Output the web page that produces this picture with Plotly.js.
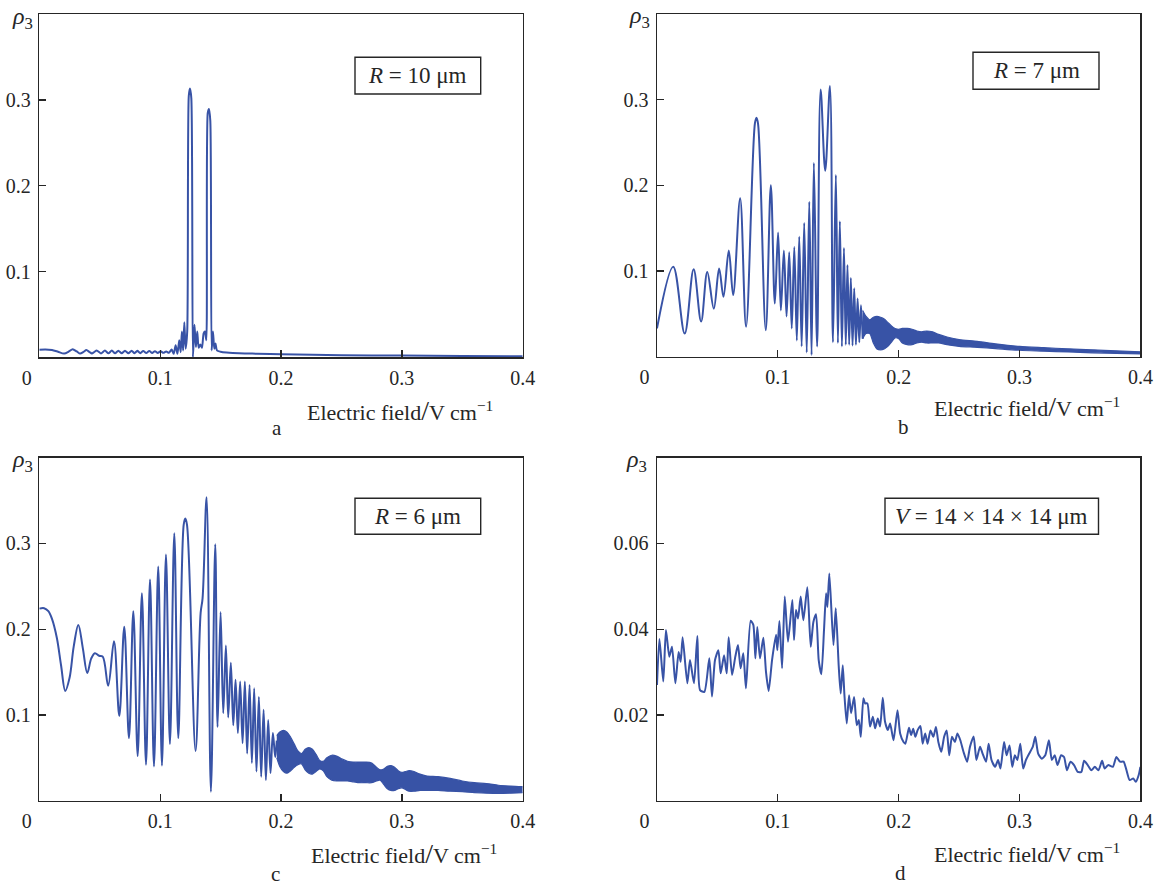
<!DOCTYPE html>
<html><head><meta charset="utf-8">
<script src="https://cdn.plot.ly/plotly-3.0.1.min.js"></script>
<style>html,body{margin:0;padding:0;background:#fff;}#chart{width:1163px;height:886px;}</style>
</head><body><div id="chart"></div>
<script>
// ---------------- DATA ----------------
const xTickVals = [0, 0.1, 0.2, 0.3, 0.4];
const xTickText = ['0\u2003\u00a0', '0.1', '0.2', '0.3', '0.4'];
const yTickValsABC = [0.1, 0.2, 0.3];
const yTickTextABC = ['0.1', '0.2', '0.3'];
const yTickValsD = [0.02, 0.04, 0.06];
const yTickTextD = ['0.02', '0.04', '0.06'];
const panelLetters = ['a', 'b', 'c', 'd'];
const boxLabels = ['<i>R</i> = 10 μm', '<i>R</i> = 7 μm', '<i>R</i> = 6 μm', '<i>V</i> = 14 × 14 × 14 μm'];
const xTitle = 'Electric field<span style="font-size:28px">/</span>V cm<sup>−1</sup>';
const yTitle = '<i>ρ</i><sub>3</sub>';

// panel a : R = 10 um  [field, rho3]
const curveA = [[0,0.0088],[0.005,0.0090],[0.0105,0.0086],[0.0155,0.0065],[0.0205,0.0043],[0.0245,0.0068],[0.0276,0.0095],[0.031,0.0068],[0.0338,0.0043],[0.0365,0.0062],[0.039,0.0085],[0.0415,0.0062],[0.0435,0.0045],[0.0455,0.0062],[0.0475,0.0080],[0.051,0.0045],[0.0543,0.0078],[0.0572,0.0046],[0.060,0.0078],[0.0627,0.0046],[0.0654,0.0076],[0.0682,0.0047],[0.0709,0.0076],[0.0737,0.0047],[0.0764,0.0076],[0.0788,0.0048],[0.0811,0.0075],[0.0836,0.0048],[0.086,0.0074],[0.0885,0.0049],[0.091,0.0074],[0.0934,0.0050],[0.0957,0.0072],[0.098,0.0050],[0.1004,0.0070],[0.1027,0.0052],[0.105,0.0068],[0.1072,0.0052],[0.1095,0.0090],[0.1112,0.0040],[0.1128,0.0140],[0.1143,0.0040],[0.1158,0.0200],[0.1170,0.0060],[0.1180,0.0300],[0.1190,0.0080],[0.1200,0.0410],[0.1211,0.0100],[0.1224,0.0300],[0.1237,0.3050],[0.1247,0.3135],[0.1258,0.3020],[0.1271,0.0000],[0.1284,0.0380],[0.1296,0.0120],[0.1307,0.0300],[0.1319,0.0110],[0.1333,0.0150],[0.1346,0.0110],[0.1360,0.0280],[0.1371,0.0300],[0.1382,0.0200],[0.1394,0.2850],[0.1404,0.2895],[0.1415,0.2760],[0.1426,0.0080],[0.1437,0.0300],[0.1448,0.0100],[0.1458,0.0160],[0.1470,0.0080],[0.1500,0.0065],[0.1550,0.0055],[0.1600,0.0050],[0.1800,0.0042],[0.2000,0.0035],[0.2500,0.0025],[0.3000,0.0020],[0.3500,0.0015],[0.4000,0.0012]];

// panel b : R = 7 um
const curveB = [[0,0.033],[0.0134,0.105],[0.0229,0.027],[0.0303,0.102],[0.0365,0.041],[0.0416,0.099],[0.047,0.056],[0.0514,0.103],[0.055,0.070],[0.0594,0.124],[0.063,0.072],[0.0688,0.185],[0.0737,0.035],[0.0810,0.272],[0.0823,0.279],[0.0836,0.272],[0.0900,0.031],[0.0942,0.200],[0.0975,0.062],[0.1002,0.145],[0.1025,0.054],[0.1050,0.124],[0.1072,0.047],[0.1094,0.122],[0.1115,0.033],[0.1136,0.128],[0.1157,0.019],[0.1177,0.140],[0.1197,0.012],[0.1218,0.156],[0.1239,0.005],[0.1260,0.181],[0.1279,0.002],[0.1298,0.226],[0.1325,0.012],[0.1354,0.312],[0.1392,0.217],[0.1431,0.316],[0.1456,0.017],[0.1480,0.212],[0.1497,0.016],[0.1513,0.158],[0.1530,0.012],[0.1547,0.127],[0.1562,0.014],[0.1576,0.107],[0.1590,0.014],[0.1604,0.092],[0.1618,0.013],[0.1632,0.080],[0.1646,0.014],[0.1660,0.068],[0.1674,0.017],[0.1688,0.060],[0.1702,0.021]];
// dense oscillation band of panel b: [field, upper, lower]
const bandB = [[0.1702,0.054,0.021],[0.173,0.047,0.027],[0.176,0.043,0.027],[0.179,0.046,0.016],[0.182,0.047,0.009],[0.185,0.046,0.008],[0.188,0.044,0.009],[0.191,0.040,0.012],[0.194,0.036,0.017],[0.197,0.033,0.022],[0.200,0.032,0.021],[0.203,0.033,0.016],[0.207,0.033,0.014],[0.211,0.032,0.014],[0.215,0.030,0.016],[0.219,0.029,0.017],[0.223,0.030,0.016],[0.228,0.029,0.016],[0.233,0.026,0.016],[0.240,0.023,0.014],[0.250,0.020,0.012],[0.265,0.018,0.011],[0.280,0.015,0.0095],[0.300,0.012,0.0075],[0.320,0.0105,0.0065],[0.340,0.0092,0.0055],[0.360,0.0080,0.0045],[0.380,0.0068,0.0038],[0.400,0.0058,0.0032]];

// panel c : R = 6 um
const curveC = [[0,0.224],[0.004,0.2245],[0.0075,0.221],[0.0105,0.212],[0.0145,0.190],[0.018,0.158],[0.0215,0.128],[0.025,0.143],[0.0285,0.180],[0.0323,0.205],[0.036,0.178],[0.0397,0.149],[0.043,0.166],[0.046,0.172],[0.0495,0.169],[0.0525,0.168],[0.0570,0.134],[0.0618,0.186],[0.0662,0.099],[0.0703,0.203],[0.0742,0.073],[0.0778,0.221],[0.0814,0.052],[0.0849,0.242],[0.0883,0.042],[0.0916,0.258],[0.0949,0.040],[0.0984,0.273],[0.1015,0.041],[0.1048,0.287],[0.1081,0.066],[0.1117,0.312],[0.1150,0.073],[0.1195,0.322],[0.1208,0.329],[0.1222,0.322],[0.1293,0.058],[0.1335,0.219],[0.1351,0.236],[0.1384,0.354],[0.1420,0.0105],[0.1456,0.299],[0.1475,0.086],[0.1500,0.220],[0.1522,0.102],[0.1544,0.181],[0.1563,0.097],[0.1585,0.161],[0.1605,0.088],[0.1624,0.141],[0.1643,0.079],[0.1662,0.139],[0.1682,0.067],[0.1701,0.139],[0.1720,0.055],[0.1740,0.135],[0.1759,0.044],[0.1778,0.131],[0.1797,0.034],[0.1817,0.121],[0.1836,0.028],[0.1856,0.106],[0.1875,0.024],[0.1894,0.094],[0.1913,0.032],[0.1933,0.079],[0.1952,0.051],[0.1965,0.070]];
const bandC = [[0.1965,0.076,0.050],[0.199,0.080,0.040],[0.202,0.082,0.034],[0.205,0.080,0.032],[0.208,0.074,0.035],[0.211,0.066,0.039],[0.214,0.058,0.042],[0.217,0.055,0.043],[0.220,0.060,0.036],[0.223,0.062,0.032],[0.226,0.060,0.031],[0.229,0.054,0.034],[0.232,0.047,0.037],[0.235,0.046,0.035],[0.238,0.050,0.028],[0.242,0.053,0.024],[0.246,0.052,0.023],[0.250,0.049,0.023],[0.255,0.046,0.023],[0.260,0.045,0.022],[0.265,0.045,0.021],[0.270,0.045,0.021],[0.275,0.044,0.021],[0.279,0.039,0.023],[0.282,0.036,0.024],[0.285,0.037,0.019],[0.288,0.040,0.014],[0.291,0.041,0.012],[0.294,0.039,0.012],[0.297,0.035,0.014],[0.300,0.033,0.015],[0.303,0.034,0.013],[0.306,0.035,0.011],[0.310,0.034,0.011],[0.315,0.031,0.012],[0.320,0.029,0.012],[0.330,0.028,0.012],[0.340,0.026,0.011],[0.350,0.023,0.0105],[0.360,0.021,0.0095],[0.370,0.020,0.0088],[0.380,0.018,0.0085],[0.390,0.017,0.0088],[0.400,0.0163,0.0093]];

// panel d : V = 14x14x14 um
const curveD = [[0.000,0.027],[0.002,0.0377],[0.0052,0.0278],[0.0074,0.0398],[0.0102,0.0336],[0.0124,0.0359],[0.0152,0.0274],[0.0179,0.0347],[0.0196,0.0324],[0.0212,0.0381],[0.0251,0.0274],[0.0273,0.0328],[0.0306,0.0274],[0.0334,0.0384],[0.0356,0.0258],[0.0392,0.0254],[0.0433,0.0332],[0.0455,0.0243],[0.048,0.0328],[0.0508,0.0351],[0.0527,0.0297],[0.0555,0.0339],[0.0577,0.0297],[0.0593,0.0381],[0.0621,0.0293],[0.0648,0.0336],[0.067,0.0363],[0.0692,0.0309],[0.0714,0.0344],[0.0736,0.0262],[0.0775,0.042],[0.0797,0.041],[0.0814,0.0332],[0.083,0.0405],[0.0852,0.0332],[0.088,0.038],[0.0902,0.030],[0.0924,0.0256],[0.0952,0.0328],[0.0985,0.0387],[0.0996,0.0351],[0.1013,0.0419],[0.1035,0.0309],[0.1057,0.0476],[0.1084,0.0371],[0.112,0.0468],[0.1134,0.0375],[0.115,0.0445],[0.1167,0.0425],[0.1189,0.0476],[0.1211,0.0421],[0.1244,0.0498],[0.1272,0.0359],[0.1294,0.0417],[0.1316,0.0435],[0.1338,0.0328],[0.136,0.0295],[0.1382,0.0398],[0.1399,0.0484],[0.141,0.0452],[0.1426,0.053],[0.146,0.0363],[0.1479,0.0449],[0.1504,0.0312],[0.152,0.025],[0.1537,0.0316],[0.1551,0.0246],[0.157,0.018],[0.1589,0.0246],[0.1606,0.0204],[0.1631,0.0242],[0.1653,0.0176],[0.167,0.0188],[0.1686,0.0149],[0.1708,0.0239],[0.1722,0.0227],[0.1741,0.0227],[0.1763,0.0173],[0.1786,0.0196],[0.1805,0.0169],[0.1827,0.0192],[0.1846,0.0173],[0.1868,0.024],[0.1887,0.0184],[0.191,0.0165],[0.1929,0.018],[0.1957,0.0141],[0.199,0.0211],[0.2012,0.0157],[0.204,0.0137],[0.2055,0.0133],[0.2085,0.017],[0.2103,0.0153],[0.212,0.0168],[0.2138,0.0149],[0.2156,0.0164],[0.218,0.0174],[0.2198,0.0133],[0.2219,0.0157],[0.2239,0.0133],[0.2263,0.0164],[0.2287,0.0149],[0.2308,0.0172],[0.2328,0.0137],[0.2352,0.0114],[0.2376,0.0149],[0.2397,0.0164],[0.2418,0.0106],[0.2441,0.0149],[0.2465,0.0137],[0.2486,0.0157],[0.251,0.0141],[0.2536,0.0114],[0.2566,0.0091],[0.259,0.0126],[0.262,0.015],[0.2643,0.0095],[0.2673,0.0126],[0.2694,0.011],[0.2723,0.0091],[0.2744,0.0133],[0.2768,0.0095],[0.2798,0.0079],[0.2822,0.0095],[0.2842,0.0075],[0.2872,0.0137],[0.2893,0.0106],[0.2917,0.0129],[0.294,0.0079],[0.2961,0.0106],[0.2982,0.0095],[0.3006,0.0133],[0.303,0.0075],[0.3053,0.0095],[0.308,0.011],[0.311,0.0126],[0.313,0.0149],[0.3154,0.011],[0.3184,0.0098],[0.3213,0.0106],[0.3243,0.0141],[0.3267,0.0095],[0.3291,0.0106],[0.3314,0.0083],[0.3344,0.0106],[0.3368,0.0102],[0.3392,0.0071],[0.3421,0.0091],[0.3451,0.0083],[0.3481,0.0067],[0.3511,0.0067],[0.3534,0.0093],[0.3564,0.0083],[0.3594,0.0071],[0.3623,0.0079],[0.3653,0.0071],[0.3683,0.0093],[0.3704,0.0075],[0.3733,0.0083],[0.3772,0.0079],[0.3801,0.0102],[0.3831,0.0091],[0.3861,0.0091],[0.3885,0.0071],[0.3911,0.0048],[0.3941,0.0052],[0.3962,0.0044],[0.3986,0.006],[0.4,0.0079]];

// ---------------- LAYOUT GEOMETRY (pixels) ----------------
const W = 1163, H = 886;
const BLUE = '#3853a6', INK = '#262626', SERIF = 'Liberation Serif, Times New Roman, serif';
const P = [
  {l:39.3, r:522.7, t:14.3, b:357.3},
  {l:657, r:1140.4, t:14, b:356.7},
  {l:39.3, r:522.7, t:457.7, b:800.7},
  {l:657, r:1140.4, t:457.7, b:800.7}
];
const boxes = [[355,57.3,480.7,94],[973,52.3,1099,89.3],[355,498.3,480.7,534.3],[885,498.3,1098.5,534.3]];
const xTitlePos = [[305,410],[932,406],[309,853],[932,852]];
const letterPos = [[276.6,428],[903.3,426.5],[275,874],[900.8,873]];
const rhoPos = [[34,18],[650.5,17],[34,461],[648.5,460.5]];
const px = x => x / W, py = y => 1 - y / H;

const traces = [];
function lineTrace(pairs, i, smooth) {
  traces.push({x: pairs.map(p => p[0]), y: pairs.map(p => p[1]), xaxis: 'x' + (i ? i + 1 : ''), yaxis: 'y' + (i ? i + 1 : ''),
    mode: 'lines', line: {color: BLUE, width: 2, shape: 'spline', smoothing: smooth}, hoverinfo: 'skip', showlegend: false});
}
function bandTrace(band, i) {
  const xa = 'x' + (i + 1), ya = 'y' + (i + 1);
  traces.push({x: band.map(p => p[0]), y: band.map(p => p[2]), xaxis: xa, yaxis: ya, mode: 'lines',
    line: {color: BLUE, width: 1.2, shape: 'spline', smoothing: 0.8}, hoverinfo: 'skip', showlegend: false});
  traces.push({x: band.map(p => p[0]), y: band.map(p => p[1]), xaxis: xa, yaxis: ya, mode: 'lines', fill: 'tonexty', fillcolor: BLUE,
    line: {color: BLUE, width: 1.2, shape: 'spline', smoothing: 0.8}, hoverinfo: 'skip', showlegend: false});
}
lineTrace(curveA, 0, 0.7);
lineTrace(curveB, 1, 1);
bandTrace(bandB, 1);
lineTrace(curveC, 2, 1);
bandTrace(bandC, 2);
lineTrace(curveD, 3, 0.6);

const layout = {width: W, height: H, margin: {l: 0, r: 0, t: 0, b: 0}, paper_bgcolor: '#fff', plot_bgcolor: '#fff',
  showlegend: false, shapes: [], annotations: []};
P.forEach((p, i) => {
  const s = i ? String(i + 1) : '';
  layout['xaxis' + s] = {domain: [px(p.l), px(p.r)], anchor: 'y' + s, range: [0, 0.4], tickmode: 'array',
    tickvals: xTickVals, ticktext: xTickText, ticks: 'inside', ticklen: 7, tickwidth: 1.3, tickcolor: INK,
    showline: true, mirror: true, linecolor: INK, linewidth: 1.5, showgrid: false, zeroline: false,
    tickfont: {family: SERIF, size: 20, color: INK}, ticklabelstandoff: 2, fixedrange: true};
  const isD = i === 3;
  layout['yaxis' + s] = {domain: [py(p.b), py(p.t)], anchor: 'x' + s, range: [0, isD ? 0.08 : 0.4], tickmode: 'array',
    tickvals: isD ? yTickValsD : yTickValsABC, ticktext: isD ? yTickTextD : yTickTextABC,
    ticks: 'inside', ticklen: 7, tickwidth: 1.3, tickcolor: INK,
    showline: true, mirror: true, linecolor: INK, linewidth: 1.5, showgrid: false, zeroline: false,
    tickfont: {family: SERIF, size: 20, color: INK}, ticklabelstandoff: 3, fixedrange: true};
  const b = boxes[i];
  layout.shapes.push({type: 'rect', xref: 'paper', yref: 'paper', x0: px(b[0]), x1: px(b[2]), y0: py(b[3]), y1: py(b[1]),
    line: {color: INK, width: 1.4}, fillcolor: 'rgba(0,0,0,0)'});
  layout.annotations.push({xref: 'paper', yref: 'paper', x: px((b[0] + b[2]) / 2), y: py((b[1] + b[3]) / 2),
    text: boxLabels[i], showarrow: false, xanchor: 'center', yanchor: 'middle', font: {family: SERIF, size: 23, color: INK}});
  layout.annotations.push({xref: 'paper', yref: 'paper', x: px(xTitlePos[i][0]), y: py(xTitlePos[i][1]), text: xTitle,
    showarrow: false, xanchor: 'left', yanchor: 'middle', font: {family: SERIF, size: 22, color: INK}});
  layout.annotations.push({xref: 'paper', yref: 'paper', x: px(letterPos[i][0]), y: py(letterPos[i][1]), text: panelLetters[i],
    showarrow: false, xanchor: 'center', yanchor: 'middle', borderpad: 0, font: {family: SERIF, size: 21, color: INK}});
  layout.annotations.push({xref: 'paper', yref: 'paper', x: px(rhoPos[i][0]), y: py(rhoPos[i][1]), text: yTitle,
    showarrow: false, xanchor: 'right', yanchor: 'middle', borderpad: 0, font: {family: SERIF, size: 24, color: INK}});
});

Plotly.newPlot('chart', traces, layout, {staticPlot: true, displayModeBar: false});
</script>
</body></html>
